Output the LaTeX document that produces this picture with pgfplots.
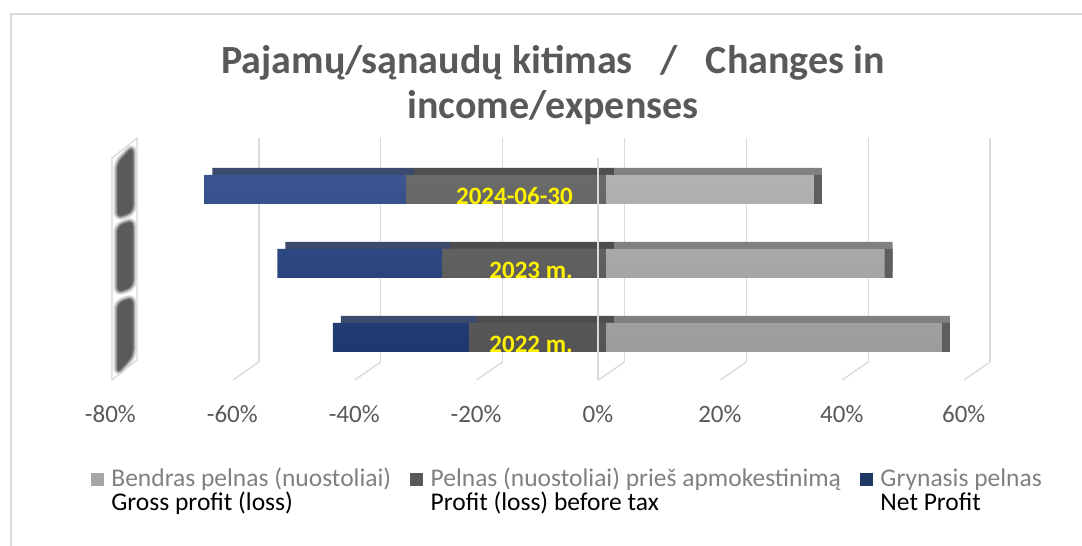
\documentclass[border=0pt]{standalone}
\usepackage{fontspec}
\setmainfont{Carlito}
\usepackage{pgfplots}
\usepackage{pgfplotstable}
\pgfplotsset{compat=1.18}
\definecolor{titlegray}{HTML}{595959}
\definecolor{gridgray}{HTML}{D9D9D9}
\definecolor{litgray}{HTML}{808080}
\definecolor{cgross}{HTML}{A6A6A6}
\definecolor{cgrossT}{HTML}{B2B2B2}
\definecolor{cgrossB}{HTML}{9C9C9C}
\definecolor{cgrossTop}{HTML}{808080}
\definecolor{cgrossSide}{HTML}{5E5E5E}
\definecolor{cbt}{HTML}{595959}
\definecolor{cbtT}{HTML}{6A6A6A}
\definecolor{cbtB}{HTML}{545454}
\definecolor{cbtTop}{HTML}{4E4E4E}
\definecolor{cnet}{HTML}{203864}
\definecolor{cnetT}{HTML}{3A5590}
\definecolor{cnetB}{HTML}{1D386E}
\definecolor{cnetTop}{HTML}{3B4A6E}
\definecolor{wallgray}{HTML}{5A5A5A}

% category: 0 = 2022 m., 1 = 2023 m., 2 = 2024-06-30 ; values in %
\pgfplotstableread{
cat gross beforetax net
0 55.1 -22.5 -22.3
1 45.7 -26.9 -27.0
2 34.1 -32.8 -33.1
}\data

\pgfplotsset{
  barax/.style={scale only axis, width=853.3bp, height=222bp,
    xmin=-80, xmax=60, ymin=-0.5, ymax=2.5,
    axis line style={draw=none}, tick style={draw=none},
    xtick=\empty, ytick=\empty, clip=false, anchor=south west,
    xbar stacked, bar width=29bp},
  legsq/.style={legend image code/.code={\fill[#1] (0bp,2bp) rectangle (12bp,14bp); \path (20bp,0bp);}},
}
\newcommand{\twoline}[2]{\vtop{\baselineskip=24bp\lineskiplimit=-100bp\hbox{\color{litgray}#1}\hbox{\color{black}#2}}}
\tikzset{blob/.style={rounded corners=6bp, line join=round}}

\begin{document}
\begin{tikzpicture}
\path[use as bounding box] (0,0) rectangle (1082bp,546bp);
\draw[gridgray, line width=2bp] (11bp,0bp) -- (11bp,532bp) -- (1082bp,532bp);

% title
\node[anchor=base, text=titlegray, font=\bfseries\fontsize{40bp}{46bp}\selectfont, inner sep=0pt]
  at (553bp,472bp) {Pajamų/sąnaudų kitimas\hspace{28bp}/\hspace{28bp}Changes in};
\node[anchor=base, text=titlegray, font=\bfseries\fontsize{40bp}{46bp}\selectfont, inner sep=0pt]
  at (553bp,427bp) {income/expenses};

% back plane grid
\begin{axis}[scale only axis, width=853bp, height=224bp, at={(137bp,184bp)}, anchor=south west,
  xmin=-80, xmax=60, ymin=0, ymax=1, clip=false,
  axis line style={draw=none}, tick style={draw=none},
  xtick={-60,-40,-20,0,20,40,60}, ytick=\empty, xticklabels={},
  xmajorgrids, grid style={gridgray, line width=1.3bp}]
\addplot[draw=none] coordinates {(0,0)};
\foreach \v in {-60,-40,-20,0,20,40,60} {
  \edef\tmp{\noexpand\draw[gridgray, line width=1.3bp] (axis cs:\v,0) -- ++(-26bp,-18bp);}
  \tmp
}
\end{axis}

% left wall
\begin{scope}[x=1bp,y=1bp]
\draw[gridgray, line width=1.3bp] (112,166) -- (112,388) -- (137,408) -- (137,186) -- cycle;
\foreach \pts in {{(117,328) -- (117,383) -- (133,400) -- (133,334) -- cycle},
                  {(117,253) -- (117,320) -- (133,326) -- (133,259) -- cycle},
                  {(117,172) -- (117,243) -- (133,249) -- (133,190) -- cycle}} {
  \draw[blob, draw=wallgray!25, line width=7bp] \pts;
  \draw[blob, draw=wallgray!55, line width=3.5bp] \pts;
  \filldraw[blob, fill=wallgray, draw=wallgray!85, line width=1bp] \pts;
}
\end{scope}

% 3D extrusion (top faces)
\begin{axis}[barax, at={(126.4bp,178.5bp)}]
\addplot[draw=none, fill=cbtTop] table[x=beforetax, y=cat] {\data};
\addplot[draw=none, fill=cnetTop] table[x=net, y=cat] {\data};
\end{axis}
\begin{axis}[barax, at={(126.4bp,178.5bp)}]
\addplot[draw=none, fill=cgrossTop] table[x=gross, y=cat] {\data};
\end{axis}
\begin{axis}[barax, at={(126.4bp,171.5bp)}]
\addplot[draw=none, fill=cgrossSide] table[x=gross, y=cat] {\data};
\end{axis}

% front faces
\begin{axis}[barax, at={(118.4bp,171.5bp)}]
\addplot[draw=none, top color=cbtT, bottom color=cbtB] table[x=beforetax, y=cat] {\data};
\addplot[draw=none, top color=cnetT, bottom color=cnetB] table[x=net, y=cat] {\data};
\end{axis}
\begin{axis}[barax, at={(118.4bp,171.5bp)}]
\addplot[draw=none, top color=cgrossT, bottom color=cgrossB] table[x=gross, y=cat] {\data};
\end{axis}

% front zero line
\draw[gridgray, line width=1.3bp] (598bp,166bp) -- (598bp,388bp);

% category labels (yellow) + legend
\begin{axis}[barax, at={(118.4bp,171.5bp)},
  ytick={0,1,2}, yticklabels={2022 m., 2023 m., 2024-06-30},
  yticklabel style={anchor=base east, xshift=454.6bp, yshift=-15.5bp, inner sep=0pt,
    text=yellow, font=\bfseries\fontsize{25bp}{30bp}\selectfont},
  legend columns=3,
  legend style={draw=none, fill=none, inner sep=0pt, outer sep=0pt,
    at={(-0.0321,-0.422)}, anchor=north west,
    font=\fontsize{25.5bp}{24bp}\selectfont,
    nodes={inner sep=0pt, anchor=base west},
    column sep=0pt,
    /tikz/every even column/.append style={column sep=19bp}},
  legend cell align=left]
\addlegendimage{legsq=cgross}
\addlegendentry{\twoline{Bendras pelnas (nuostoliai)}{Gross profit (loss)}}
\addlegendimage{legsq=cbt}
\addlegendentry{\twoline{Pelnas (nuostoliai) prieš apmokestinimą}{Profit (loss) before tax}}
\addlegendimage{legsq=cnet}
\addlegendentry{\twoline{Grynasis pelnas}{Net Profit}}
\end{axis}

% front plane: tick labels
\begin{axis}[scale only axis, width=853.3bp, height=10bp, at={(110.4bp,166bp)}, anchor=south west,
  xmin=-80, xmax=60, ymin=0, ymax=1, clip=false,
  axis line style={draw=none}, tick style={draw=none}, ytick=\empty,
  xtick={-80,-60,-40,-20,0,20,40,60},
  xticklabels={-80\%,-60\%,-40\%,-20\%,0\%,20\%,40\%,60\%},
  xticklabel style={anchor=base, yshift=-43bp, inner sep=0pt, text=titlegray,
    font=\fontsize{25bp}{30bp}\selectfont}]
\addplot[draw=none] coordinates {(0,0)};
\end{axis}
\end{tikzpicture}
\end{document}
